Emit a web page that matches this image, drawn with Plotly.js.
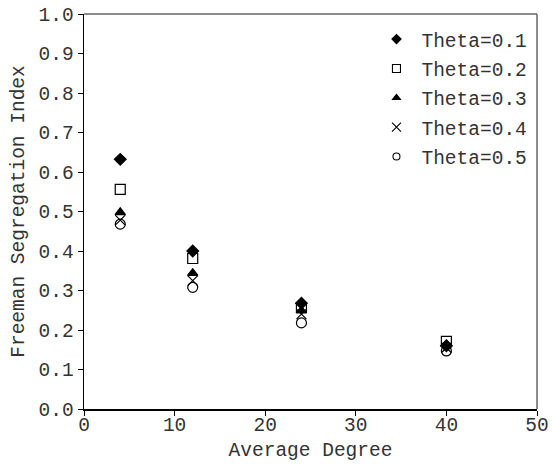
<!DOCTYPE html>
<html><head><meta charset="utf-8">
<script src="https://cdn.plot.ly/plotly-3.0.1.min.js"></script>
<style>html,body{margin:0;padding:0;background:#fff}</style>
</head><body>
<div id="chart" style="width:552px;height:464px"></div>
<script>
const degrees = [4, 12, 24, 40];
const seriesNames = ["Theta=0.1", "Theta=0.2", "Theta=0.3", "Theta=0.4", "Theta=0.5"];
const theta01 = [0.632, 0.400, 0.268, 0.160];
const theta02 = [0.556, 0.381, 0.257, 0.171];
const theta03 = [0.498, 0.344, 0.249, 0.163];
const theta04 = [0.478, 0.325, 0.240, 0.155];
const theta05 = [0.468, 0.308, 0.218, 0.147];
const xTicks = [0, 10, 20, 30, 40, 50];
const yTicks = [0, 0.1, 0.2, 0.3, 0.4, 0.5, 0.6, 0.7, 0.8, 0.9, 1.0];

const values = [theta01, theta02, theta03, theta04, theta05];
const symbols = ["diamond", "square-open", "triangle-up", "x-thin-open", "circle-open"];
const sizes = [9, 10, 9, 10, 10];
const legSizes = [7, 8, 7, 9, 7];
const FONT = "Liberation Mono, Courier New, monospace";
const FS = 19.5;
const TXT = "#333";

const traces = [];
values.forEach((v, i) => {
  traces.push({
    x: degrees, y: v, name: seriesNames[i], type: "scatter", mode: "markers",
    showlegend: false,
    marker: {symbol: symbols[i], size: sizes[i], color: "#000",
             line: {color: "#000", width: 1.2}},
    cliponaxis: false
  });
});
values.forEach((v, i) => {
  traces.push({
    x: [null], y: [null], name: seriesNames[i], type: "scatter", mode: "markers",
    legendgroup: "g" + i, showlegend: true,
    marker: {symbol: symbols[i], size: legSizes[i], color: "#000",
             line: {color: "#000", width: 1.1}}
  });
});

const layout = {
  width: 552, height: 464,
  margin: {l: 84, r: 15, t: 14, b: 55},
  paper_bgcolor: "#fff", plot_bgcolor: "#fff",
  font: {family: FONT, size: FS, color: TXT},
  showlegend: true,
  legend: {x: 0.99, y: 0.985, xanchor: "right", yanchor: "top",
           bgcolor: "rgba(0,0,0,0)", font: {family: FONT, size: FS, color: TXT},
           tracegroupgap: 1, itemsizing: "trace", itemwidth: 40},
  xaxis: {range: [0, 50], tickvals: xTicks, ticktext: xTicks.map(String),
          ticks: "outside", ticklen: 5, tickcolor: "#000", showgrid: false, zeroline: false,
          showline: true, linecolor: "#000", linewidth: 1.5, mirror: false,
          ticklabelstandoff: -8,
          title: {text: "Average Degree", font: {family: FONT, size: FS, color: TXT}, standoff: 6}},
  yaxis: {range: [0, 1], tickvals: yTicks, ticktext: yTicks.map(v => v.toFixed(1)),
          ticks: "outside", ticklen: 5, tickcolor: "#000", showgrid: false, zeroline: false,
          showline: true, linecolor: "#000", linewidth: 1.5, mirror: false,
          title: {text: "Freeman Segregation Index", font: {family: FONT, size: FS, color: TXT}, standoff: 8}},
  shapes: [
    {type: "line", xref: "paper", yref: "paper", x0: 0, x1: 1, y0: 1, y1: 1, line: {color: "#666", width: 1.5}},
    {type: "line", xref: "paper", yref: "paper", x0: 1, x1: 1, y0: 0, y1: 1, line: {color: "#666", width: 1.5}}
  ]
};

Plotly.newPlot("chart", traces, layout, {displayModeBar: false, staticPlot: true});
</script>
</body></html>
